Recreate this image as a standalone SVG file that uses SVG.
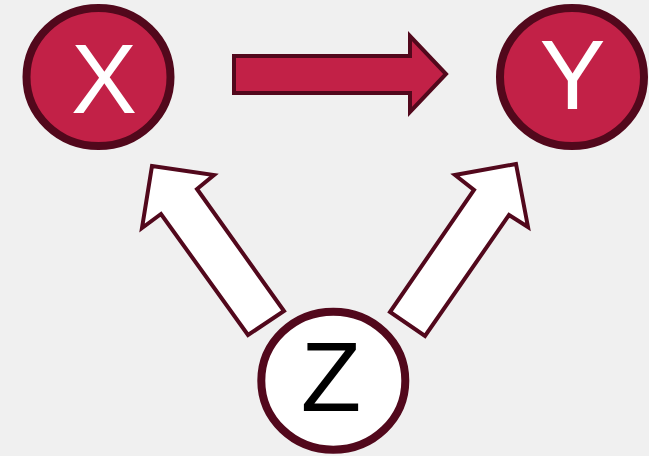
<svg xmlns="http://www.w3.org/2000/svg" width="649" height="456" viewBox="0 0 649 456">
  <style>
    .bg { fill: #f0f0f0; }
    .node { stroke: #52081c; stroke-width: 8; }
    .red { fill: #c22147; }
    .white { fill: #ffffff; }
    .arrow { stroke: #52081c; stroke-width: 4; stroke-linejoin: miter; }
    .label { font-family: "Liberation Sans", Arial, sans-serif; font-size: 99px; text-anchor: middle; }
  </style>
  <rect class="bg" x="0" y="0" width="649" height="456"/>

  <!-- block arrows between the variables -->
  <g id="connectors">
    <path id="x-to-y" class="arrow red" d="M234,56 H410 V36 L446,74 L410,112 V93 H234 Z"/>
    <path id="z-to-x" class="arrow white" d="M152,166 L214,175 L197,189 L284,311 L248,335 L161,214 L142,228 Z"/>
    <path id="z-to-y" class="arrow white" d="M516,164 L455,175 L474,190 L390,312 L425,336 L509,215 L528,227 Z"/>
  </g>

  <g id="node-x">
    <ellipse class="node red" cx="98.5" cy="77" rx="72" ry="69"/>
    <text class="label" x="104" y="113" fill="#ffffff">X</text>
  </g>

  <g id="node-y">
    <ellipse class="node red" cx="572" cy="77" rx="72" ry="69"/>
    <text class="label" x="572.5" y="109" fill="#ffffff">Y</text>
  </g>

  <g id="node-z">
    <ellipse class="node white" cx="333.3" cy="380.7" rx="72" ry="69"/>
    <text class="label" x="331" y="411" fill="#000000">Z</text>
  </g>
</svg>
